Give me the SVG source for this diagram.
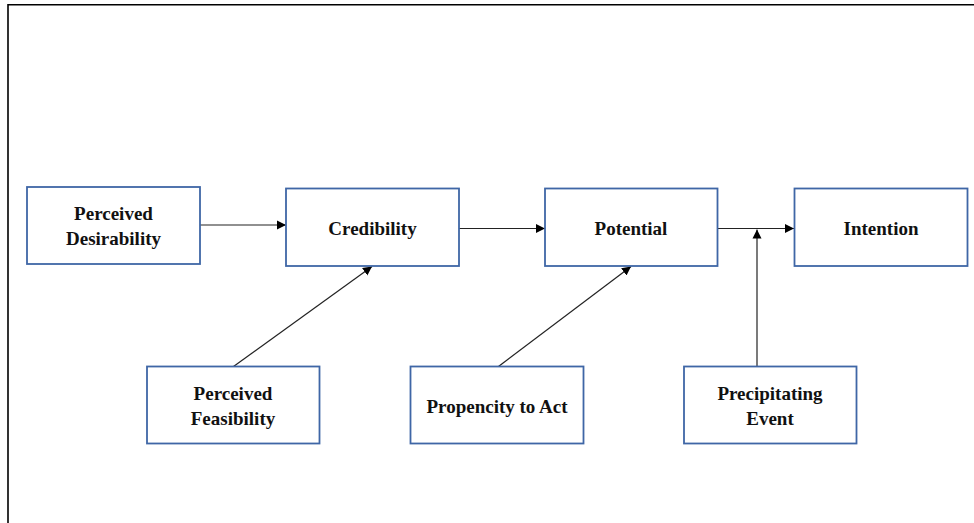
<svg xmlns="http://www.w3.org/2000/svg" width="974" height="523" viewBox="0 0 974 523">
  <defs>
    <marker id="arrow" viewBox="0 0 10 10" refX="10" refY="5" markerWidth="9" markerHeight="10" markerUnits="userSpaceOnUse" orient="auto">
      <path d="M0,0 L10,5 L0,10 Z" fill="#000"/>
    </marker>
    <style>
      .box { fill: #fff; stroke: #3f66a6; stroke-width: 1.8; }
      .label { font-family: "Liberation Serif", "Times New Roman", serif; font-weight: bold; font-size: 19px; fill: #111; text-anchor: middle; }
      .conn { stroke: #222; stroke-width: 1.2; fill: none; marker-end: url(#arrow); }
      .frame { fill: none; stroke: #000; stroke-width: 1.6; }
    </style>
  </defs>

  <rect width="974" height="523" fill="#fff"/>

  <!-- outer frame (open to the right and bottom) -->
  <path class="frame" d="M8,523 L8,4.8 L974,4.8"/>

  <g id="connectors">
    <line class="conn" x1="200" y1="225" x2="286" y2="225"/>
    <line class="conn" x1="459" y1="228.5" x2="545" y2="228.5"/>
    <line class="conn" x1="717" y1="228.5" x2="794" y2="228.5"/>
    <line class="conn" x1="757" y1="366" x2="757" y2="229.5"/>
    <line class="conn" x1="233.5" y1="366.5" x2="372" y2="266.5"/>
    <line class="conn" x1="498.5" y1="366.5" x2="631" y2="266.5"/>
  </g>

  <g id="perceived-desirability">
    <rect class="box" x="27" y="187" width="173" height="77"/>
    <text class="label" x="113.5" y="219.5">Perceived</text>
    <text class="label" x="113.5" y="244.5">Desirability</text>
  </g>

  <g id="credibility">
    <rect class="box" x="286" y="188.5" width="173" height="77.5"/>
    <text class="label" x="372.5" y="235">Credibility</text>
  </g>

  <g id="potential">
    <rect class="box" x="545" y="188.5" width="172.5" height="77.5"/>
    <text class="label" x="631" y="235">Potential</text>
  </g>

  <g id="intention">
    <rect class="box" x="794.5" y="188.5" width="173" height="77.5"/>
    <text class="label" x="881" y="235">Intention</text>
  </g>

  <g id="perceived-feasibility">
    <rect class="box" x="147" y="366.5" width="172.5" height="77"/>
    <text class="label" x="233" y="399.5">Perceived</text>
    <text class="label" x="233" y="424.5">Feasibility</text>
  </g>

  <g id="propencity-to-act">
    <rect class="box" x="410.5" y="366.5" width="173" height="77"/>
    <text class="label" x="497" y="413">Propencity to Act</text>
  </g>

  <g id="precipitating-event">
    <rect class="box" x="684" y="366.5" width="172.5" height="77"/>
    <text class="label" x="770" y="399.5">Precipitating</text>
    <text class="label" x="770" y="424.5">Event</text>
  </g>
</svg>
